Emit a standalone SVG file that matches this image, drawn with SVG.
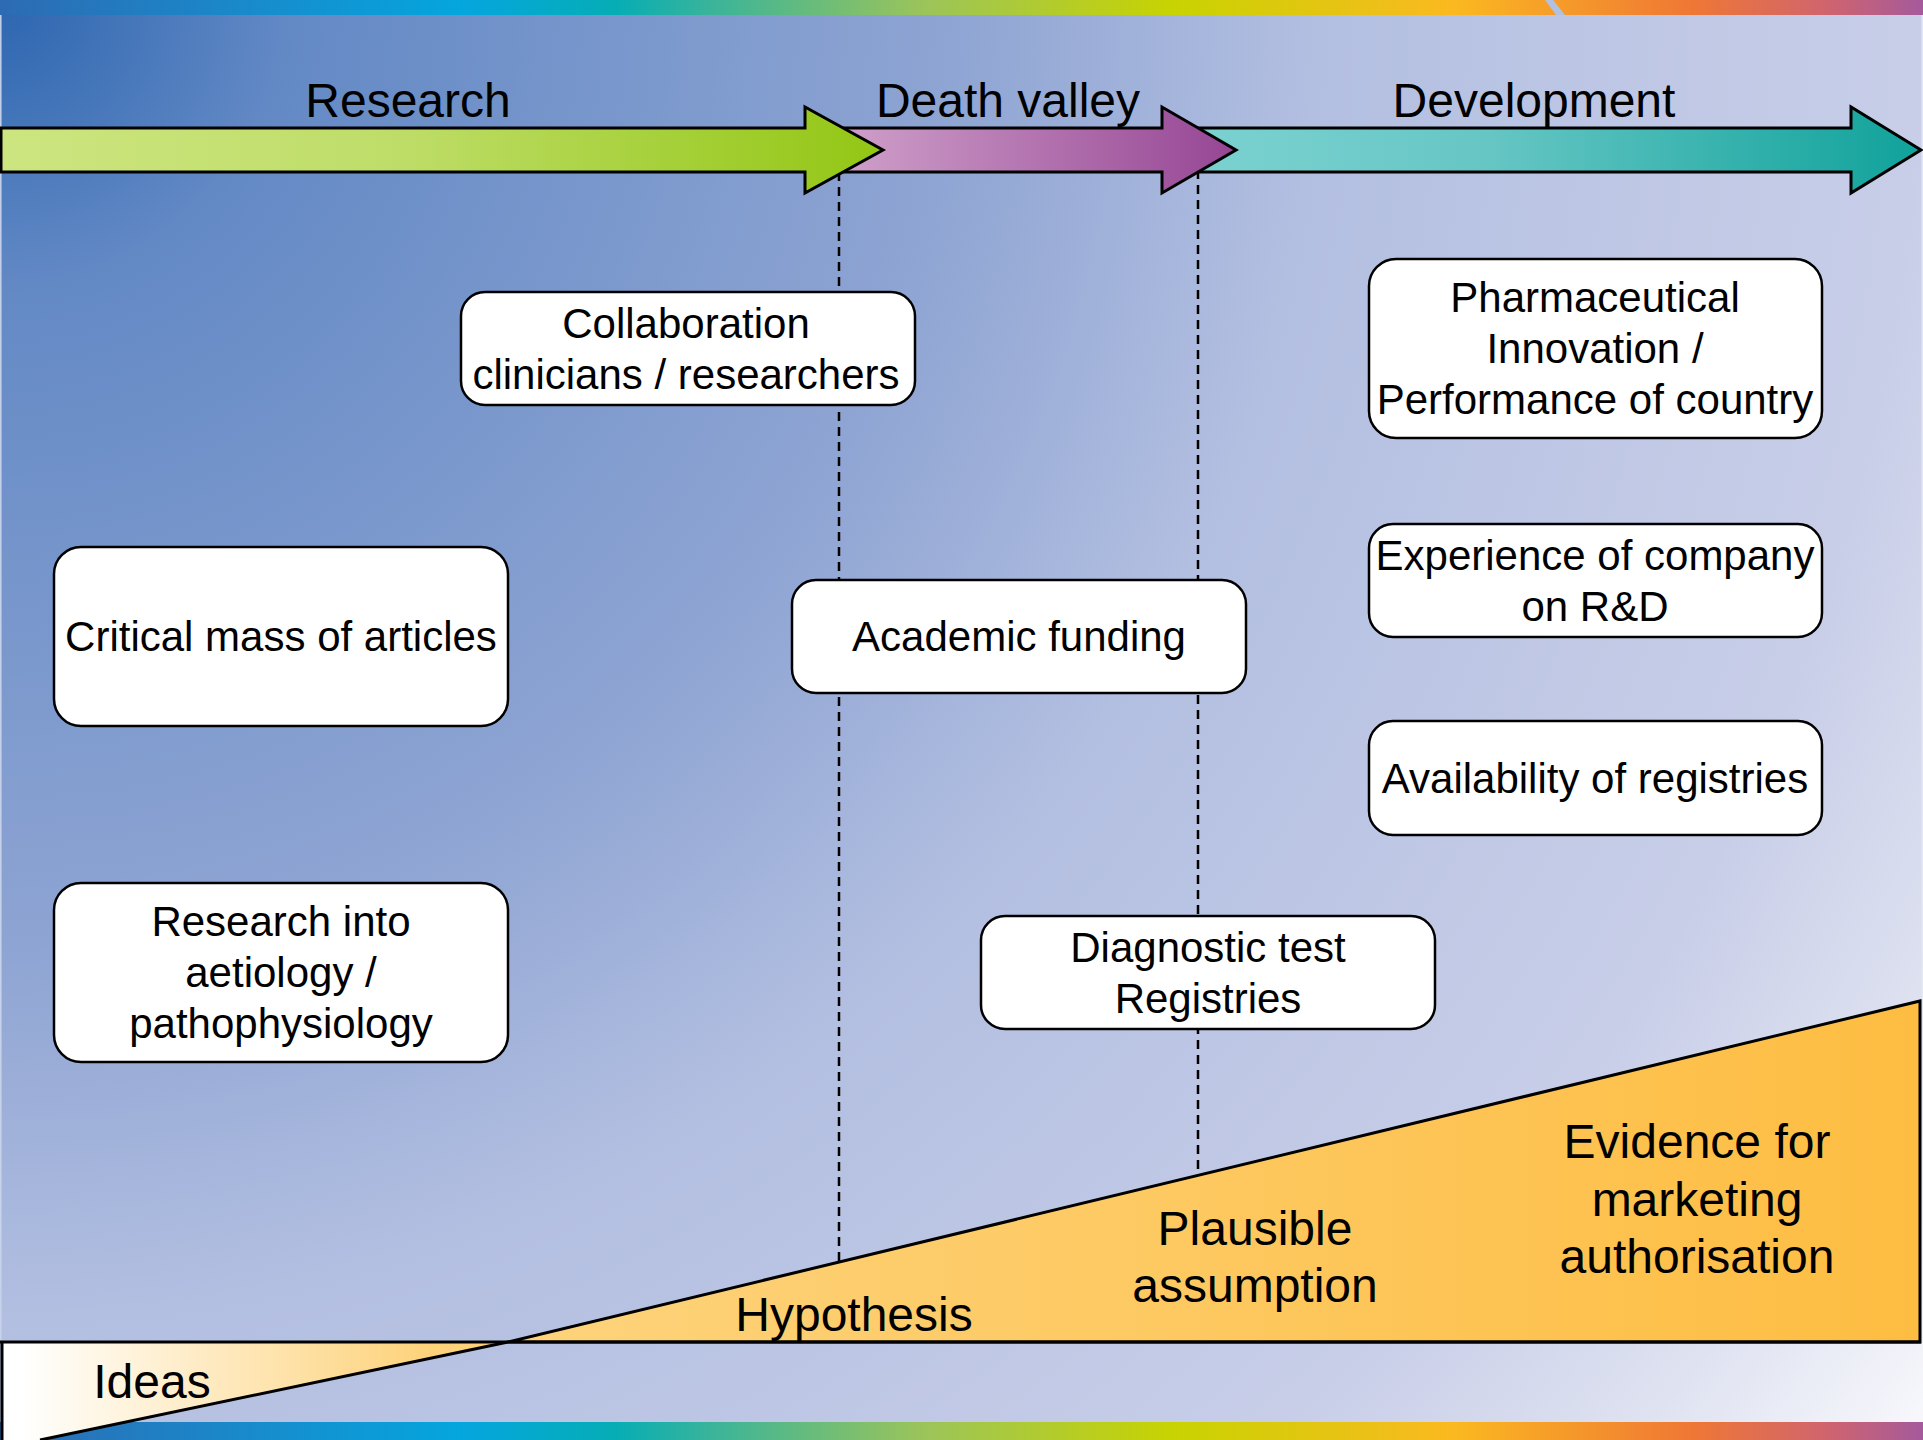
<svg xmlns="http://www.w3.org/2000/svg" width="1923" height="1440" viewBox="0 0 1923 1440">
  <defs>
    <radialGradient id="bg" gradientUnits="userSpaceOnUse" cx="0" cy="0" r="2400">
      <stop offset="0" stop-color="#2C66B0"/>
      <stop offset="0.12" stop-color="#6389C5"/>
      <stop offset="0.4" stop-color="#8FA5D3"/>
      <stop offset="0.55" stop-color="#B3BFE1"/>
      <stop offset="0.8" stop-color="#C8CEE8"/>
      <stop offset="0.9" stop-color="#DDE1F0"/>
      <stop offset="1" stop-color="#F8F8FC"/>
    </radialGradient>
    <linearGradient id="rainbow" gradientUnits="userSpaceOnUse" x1="0" y1="0" x2="1923" y2="0">
      <stop offset="0" stop-color="#2D6BB3"/>
      <stop offset="0.12" stop-color="#1A88CA"/>
      <stop offset="0.24" stop-color="#04A6DE"/>
      <stop offset="0.32" stop-color="#06ADB5"/>
      <stop offset="0.37" stop-color="#3AB49A"/>
      <stop offset="0.48" stop-color="#9BC45A"/>
      <stop offset="0.61" stop-color="#C8D301"/>
      <stop offset="0.755" stop-color="#FBB920"/>
      <stop offset="0.88" stop-color="#EF7735"/>
      <stop offset="0.95" stop-color="#D0646E"/>
      <stop offset="1" stop-color="#A45A9C"/>
    </linearGradient>
    <linearGradient id="gGreen" gradientUnits="userSpaceOnUse" x1="0" y1="0" x2="883" y2="0">
      <stop offset="0" stop-color="#CDE580"/>
      <stop offset="0.45" stop-color="#BEDD68"/>
      <stop offset="1" stop-color="#93C614"/>
    </linearGradient>
    <linearGradient id="gPurple" gradientUnits="userSpaceOnUse" x1="840" y1="0" x2="1236" y2="0">
      <stop offset="0" stop-color="#CFA0CA"/>
      <stop offset="1" stop-color="#964694"/>
    </linearGradient>
    <linearGradient id="gTeal" gradientUnits="userSpaceOnUse" x1="1200" y1="0" x2="1921" y2="0">
      <stop offset="0" stop-color="#7AD2D0"/>
      <stop offset="0.4" stop-color="#66C6C4"/>
      <stop offset="1" stop-color="#10A29B"/>
    </linearGradient>
    <linearGradient id="gOrange" gradientUnits="userSpaceOnUse" x1="508" y1="0" x2="1920" y2="0">
      <stop offset="0" stop-color="#FDD37C"/>
      <stop offset="1" stop-color="#FDBD42"/>
    </linearGradient>
    <linearGradient id="gIdeas" gradientUnits="userSpaceOnUse" x1="20" y1="0" x2="430" y2="0">
      <stop offset="0" stop-color="#FFFFFF"/>
      <stop offset="1" stop-color="#FDD27A"/>
    </linearGradient>
    <style>
      .t { font-family: "Liberation Sans", Arial, sans-serif; fill: #000; text-anchor: middle; }
      .phase { font-size: 48px; }
      .box rect { fill: #FFFFFF; stroke: #000; stroke-width: 2.5; }
      .box text { font-size: 42px; }
      .arrow { stroke: #000; stroke-width: 3; stroke-linejoin: miter; }
      .dash { stroke: #000; stroke-width: 2.5; stroke-dasharray: 9 6; fill: none; }
      .level { font-size: 48px; }
    </style>
  </defs>

  <!-- background -->
  <rect x="0" y="0" width="1923" height="1440" fill="url(#bg)"/>
  <rect x="0" y="0" width="1923" height="15" fill="url(#rainbow)"/>
  <polygon points="1545,0 1553,0 1565,15 1556,15" fill="#B3C1E1"/>
  <rect x="0" y="1422" width="1923" height="18" fill="url(#rainbow)"/>
  <line x1="0.8" y1="15" x2="0.8" y2="1340" stroke="#C9D3EC" stroke-width="1.5"/>
  <line x1="1922.2" y1="15" x2="1922.2" y2="1000" stroke="#E4E8F4" stroke-width="1.5"/>

  <!-- dividers -->
  <g id="connectors">
    <line class="dash" x1="839" y1="172" x2="839" y2="1270"/>
    <line class="dash" x1="1198" y1="170" x2="1198" y2="1185"/>
  </g>

  <!-- phase arrows -->
  <g id="phase-development">
    <polygon class="arrow" fill="url(#gTeal)" points="1175,128 1851,128 1851,107 1921,150 1851,193 1851,172 1175,172"/>
    <text class="t phase" x="1534" y="117">Development</text>
  </g>
  <g id="phase-death-valley">
    <polygon class="arrow" fill="url(#gPurple)" points="820,128 1162,128 1162,107 1236,150 1162,193 1162,172 820,172"/>
    <text class="t phase" x="1008" y="117">Death valley</text>
  </g>
  <g id="phase-research">
    <polygon class="arrow" fill="url(#gGreen)" points="1,128 805,128 805,107 883,150 805,193 805,172 1,172"/>
    <text class="t phase" x="408" y="117">Research</text>
  </g>

  <!-- evidence levels -->
  <g id="evidence-ideas">
    <polygon points="2,1342 508,1342 40,1440 2,1440" fill="url(#gIdeas)"/>
    <text class="t level" x="152" y="1398">Ideas</text>
  </g>
  <g id="evidence-wedge">
    <polygon points="508,1342 1920,1001 1920,1342" fill="url(#gOrange)" stroke="#000" stroke-width="3" stroke-linejoin="miter"/>
    <line x1="0" y1="1342" x2="1921" y2="1342" stroke="#000" stroke-width="3"/>
    <line x1="2" y1="1342" x2="2" y2="1440" stroke="#000" stroke-width="3"/>
    <line x1="40" y1="1440" x2="508" y2="1342" stroke="#000" stroke-width="3"/>
  </g>
  <g id="evidence-hypothesis">
    <text class="t level" x="854" y="1331">Hypothesis</text>
  </g>
  <g id="evidence-plausible">
    <text class="t level" x="1255" y="1245">Plausible</text>
    <text class="t level" x="1255" y="1302">assumption</text>
  </g>
  <g id="evidence-marketing">
    <text class="t level" x="1697" y="1158">Evidence for</text>
    <text class="t level" x="1697" y="1216">marketing</text>
    <text class="t level" x="1697" y="1273">authorisation</text>
  </g>

  <!-- boxes -->
  <g id="box-collaboration" class="box">
    <rect x="461" y="292" width="454" height="113" rx="24" ry="24"/>
    <text class="t" x="686" y="338">Collaboration</text>
    <text class="t" x="686" y="389">clinicians / researchers</text>
  </g>
  <g id="box-critical-mass" class="box">
    <rect x="54" y="547" width="454" height="179" rx="27" ry="27"/>
    <text class="t" x="281" y="651">Critical mass of articles</text>
  </g>
  <g id="box-aetiology" class="box">
    <rect x="54" y="883" width="454" height="179" rx="27" ry="27"/>
    <text class="t" x="281" y="936">Research into</text>
    <text class="t" x="281" y="987">aetiology /</text>
    <text class="t" x="281" y="1038">pathophysiology</text>
  </g>
  <g id="box-academic-funding" class="box">
    <rect x="792" y="580" width="454" height="113" rx="24" ry="24"/>
    <text class="t" x="1019" y="651">Academic funding</text>
  </g>
  <g id="box-diagnostic" class="box">
    <rect x="981" y="916" width="454" height="113" rx="24" ry="24"/>
    <text class="t" x="1208" y="962">Diagnostic test</text>
    <text class="t" x="1208" y="1013">Registries</text>
  </g>
  <g id="box-pharma" class="box">
    <rect x="1369" y="259" width="453" height="179" rx="27" ry="27"/>
    <text class="t" x="1595" y="312">Pharmaceutical</text>
    <text class="t" x="1595" y="363">Innovation /</text>
    <text class="t" x="1595" y="414">Performance of country</text>
  </g>
  <g id="box-experience" class="box">
    <rect x="1369" y="524" width="453" height="113" rx="24" ry="24"/>
    <text class="t" x="1595" y="570">Experience of company</text>
    <text class="t" x="1595" y="621">on R&amp;D</text>
  </g>
  <g id="box-registries" class="box">
    <rect x="1369" y="721" width="453" height="114" rx="24" ry="24"/>
    <text class="t" x="1595" y="793">Availability of registries</text>
  </g>
</svg>
